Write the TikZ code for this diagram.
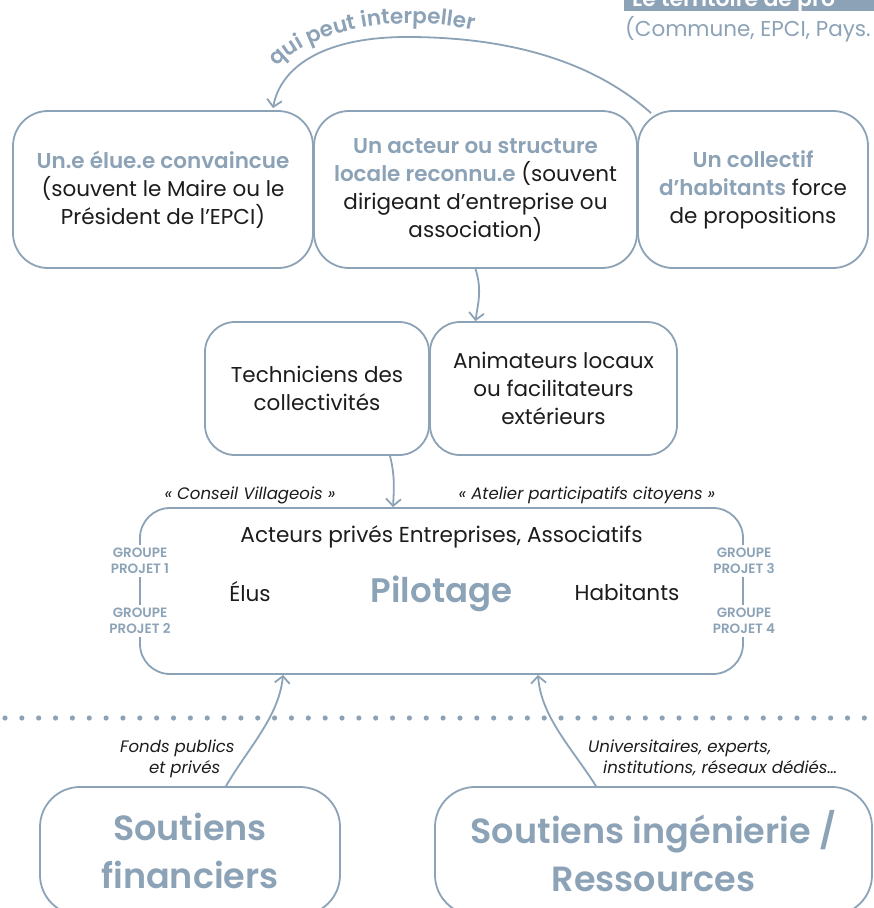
\documentclass[tikz,border=0pt]{standalone}
\usepackage{fontspec}
\setmainfont{Poppins}[BoldFont={Poppins SemiBold}]
\usetikzlibrary{arrows.meta,decorations.text}
\definecolor{slate}{HTML}{8CA2B6}
\definecolor{ink}{HTML}{1C1C1C}
\newcommand\hlt[1]{\textcolor{slate}{\bfseries #1}}
\begin{document}
\begin{tikzpicture}[x=1pt,y=1pt,
  box/.style={draw=slate, line width=1.8pt, align=center, text=ink, inner sep=0pt, font=\fontsize{21.5}{28}\selectfont},
  topbox/.style={box, rounded corners=35pt, minimum height=157pt},
  midbox/.style={box, rounded corners=30pt, minimum height=133pt},
  lowbox/.style={box, rounded corners=40pt, text=slate, font=\fontsize{35}{48}\selectfont\bfseries, minimum height=128pt},
  conn/.style={draw=slate, line width=1.8pt, -{Straight Barb[length=7pt,width=15pt]}},
  grp/.style={fill=white, text=slate, font=\fontsize{13.5}{16}\selectfont\bfseries, align=center, inner xsep=1pt, inner ysep=3pt},
  lab/.style={text=ink, font=\fontsize{16.6}{21}\selectfont\itshape, inner sep=0pt},
  plain/.style={text=ink, font=\fontsize{21.6}{24}\selectfont, inner sep=0pt}
]
\useasboundingbox (0,0) rectangle (874,-908);
\clip (0,0) rectangle (874,-908);

% banner
\fill[slate] (624,-11) rectangle (890,20);
\node[anchor=base west, inner sep=0pt, text=white, font=\fontsize{22}{22}\selectfont\bfseries] (ban) at (632,-6) {Le territoire de pro};
\node[anchor=base west, inner sep=0pt, text=slate, font=\fontsize{21.5}{22}\selectfont] (sub) at (625,-36) {(Commune, EPCI, Pays.};

% top boxes
\node[topbox, minimum width=300pt] (A) at (163,-189.5) {\hlt{Un.e élue.e convaincue}\\(souvent le Maire ou le\\Président de l’EPCI)};
\node[topbox, minimum width=323pt] (B) at (475.5,-189.5) {\hlt{Un acteur ou structure}\\\hlt{locale reconnu.e} (souvent\\dirigeant d’entreprise ou\\association)};
\node[topbox, minimum width=230pt] (C) at (753,-189.5) {\hlt{Un collectif}\\\hlt{d’habitants} force\\de propositions};

% middle boxes
\node[midbox, minimum width=224pt] (T) at (317,-388.5) {Techniciens des\\collectivités};
\node[midbox, minimum width=247pt] (N) at (553.5,-388.5) {Animateurs locaux\\ou facilitateurs\\extérieurs};

% pilotage
\node[box, rounded corners=30pt, minimum width=603pt, minimum height=166pt] (P) at (441.5,-591) {};
\node[plain] (pa) at (441.5,-537) {Acteurs privés Entreprises, Associatifs};
\node[plain] (pe) at (250,-592) {Élus};
\node[plain] (ph) at (627,-592) {Habitants};
\node[inner sep=0pt, text=slate, font=\fontsize{34}{36}\selectfont\bfseries] (pp) at (441.5,-594) {Pilotage};
\node[grp] (g1) at (140,-561) {GROUPE\\PROJET 1};
\node[grp] (g2) at (140,-621) {GROUPE\\PROJET 2};
\node[grp] (g3) at (744,-561) {GROUPE\\PROJET 3};
\node[grp] (g4) at (744,-621) {GROUPE\\PROJET 4};
\node[lab] (cv) at (250,-495) {« Conseil Villageois »};
\node[lab] (ap) at (587,-495) {« Atelier participatifs citoyens »};

% dotted line
\foreach \i in {0,...,51} \fill[slate] ({5+\i*16.85},-718) circle (2.6);

% bottom boxes
\node[lowbox, minimum width=300pt] (F) at (190,-851) {Soutiens\\financiers};
\node[lowbox, minimum width=437pt] (R) at (653.5,-851) {Soutiens ingénierie /\\Ressources};
\node[lab, anchor=base west] (f1) at (120,-752) {Fonds publics};
\node[lab, anchor=base west] (f2) at (149,-773) {et privés};
\node[lab, anchor=base west] (u1) at (588,-752) {Universitaires, experts,};
\node[lab, anchor=base west] (u2) at (603,-773) {institutions, réseaux dédiés…};

% connectors
\coordinate (apex) at (407,-37);
\draw[conn] ([xshift=14pt,yshift=-3pt]C.north west) .. controls +(-72,64) and +(73,0) .. (apex) .. controls +(-87,0) and +(7,39) .. ([xshift=110pt,yshift=2pt]A.north);
\path[decorate, decoration={text along path, text align={left indent=4pt},
  text={|\fontsize{21.5}{21}\selectfont\bfseries\color{slate}|qui peut interpeller}}]
  (274,-70) .. controls (307,-30) and (405,-8) .. (495,-36);
\draw[conn] (B.south) .. controls +(7,-22) and +(2,16) .. (N.north -| B.south);
\draw[conn] ([xshift=73pt]T.south) .. controls +(5,-20) and +(1,18) .. ([xshift=-48.5pt]P.north);
\draw[conn] ([xshift=36pt]F.north) .. controls +(22,38) and +(-4,-42) .. ([xshift=-158.5pt]P.south);
\draw[conn] ([xshift=-57.5pt]R.north) .. controls +(-24,38) and +(3,-42) .. ([xshift=96.5pt]P.south);
\end{tikzpicture}
\end{document}
